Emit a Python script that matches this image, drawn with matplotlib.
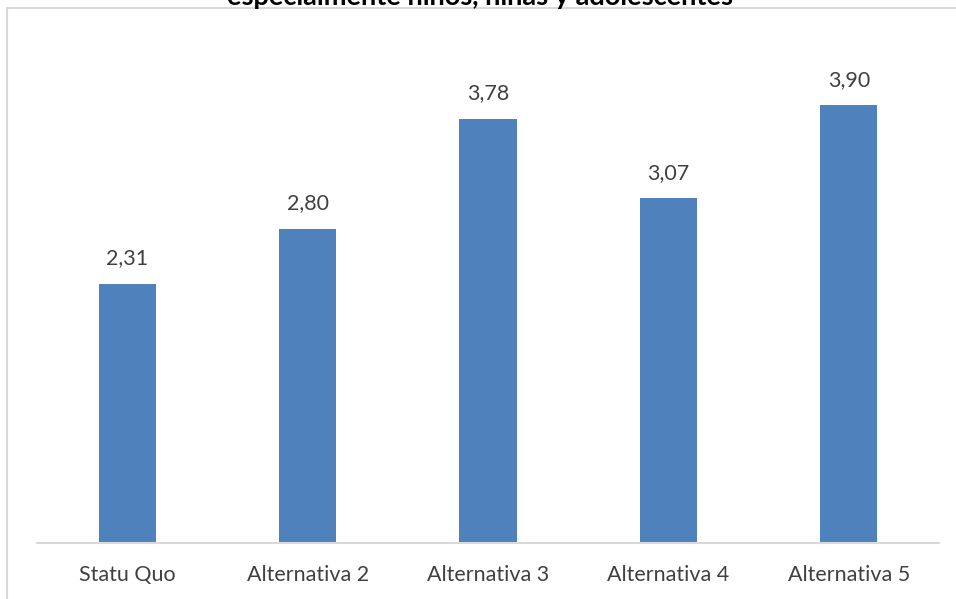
import matplotlib
matplotlib.use("Agg")
import matplotlib.pyplot as plt
from matplotlib.patches import Rectangle

categories = ["Statu Quo", "Alternativa 2", "Alternativa 3", "Alternativa 4", "Alternativa 5"]
values = [2.31, 2.80, 3.78, 3.07, 3.90]
value_labels = ["2,31", "2,80", "3,78", "3,07", "3,90"]
title = "especialmente niños, niñas y adolescentes"

W, H = 956, 599
fig = plt.figure(figsize=(W / 100, H / 100), dpi=100)
plt.rcParams["font.family"] = ["Lato", "DejaVu Sans"]

# plot area in pixel coordinates
left, right, top, bottom = 37, 939, 38, 543
ax = fig.add_axes([left / W, (H - bottom) / H, (right - left) / W, (bottom - top) / H])

x = list(range(len(categories)))
bars = ax.bar(x, values, width=0.316, color="#4f81bd", zorder=2)
ax.set_xlim(-0.5, len(categories) - 0.5)
ax.set_ylim(0, 4.5)

for xi, v, lab in zip(x, values, value_labels):
    ax.annotate(lab, (xi, v), xytext=(0, 11), textcoords="offset points",
                ha="center", va="bottom", fontsize=15.5, color="#404040")

ax.set_xticks(x)
ax.set_xticklabels(categories, fontsize=15.5, color="#404040")
ax.tick_params(axis="x", length=0, pad=16)
ax.set_yticks([])
for s in ["top", "right", "left"]:
    ax.spines[s].set_visible(False)
ax.spines["bottom"].set_color("#d9d9d9")
ax.spines["bottom"].set_linewidth(1.5)
ax.patch.set_alpha(0)

# chart frame
frame = Rectangle((7 / W, -0.1), 1.2, (H - 8) / H + 0.1, transform=fig.transFigure,
                  fill=False, edgecolor="#d9d9d9", linewidth=1.5, clip_on=False)
fig.add_artist(frame)

fig.text(480 / W, (H - 5) / H, title, ha="center", va="baseline",
         fontsize=19.5, fontweight="bold", color="black")

fig.savefig("out.png", dpi=100)
